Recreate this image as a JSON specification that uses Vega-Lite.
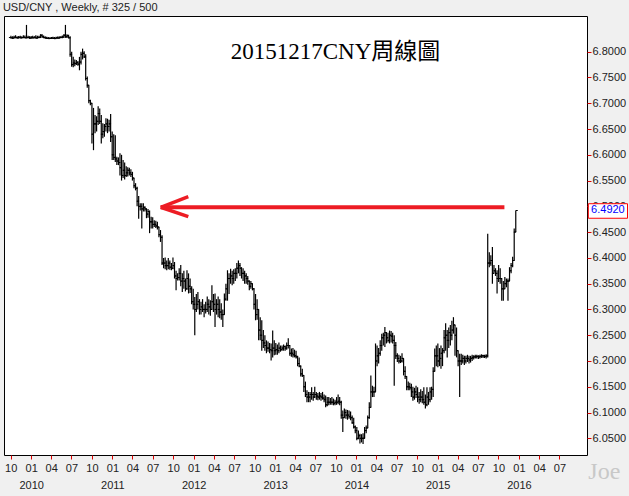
{
"$schema":"https://vega.github.io/schema/vega-lite/v6.json",
"width":583,"height":439,
"autosize":{"type":"none"},
"padding":{"left":4,"top":16,"right":42,"bottom":41},
"background":"#f0f0f0",
"config":{"view":{"fill":"white","stroke":"black","strokeWidth":1}},
"data":{"values":[
{"d":"2009-10-02","o":6.8275,"h":6.831,"l":6.8255,"c":6.827},
{"d":"2009-10-09","o":6.827,"h":6.83,"l":6.825,"c":6.8265},
{"d":"2009-10-16","o":6.8265,"h":6.831,"l":6.8255,"c":6.828},
{"d":"2009-10-23","o":6.828,"h":6.832,"l":6.826,"c":6.8275},
{"d":"2009-10-30","o":6.8275,"h":6.83,"l":6.825,"c":6.827},
{"d":"2009-11-06","o":6.827,"h":6.8305,"l":6.8255,"c":6.828},
{"d":"2009-11-13","o":6.828,"h":6.831,"l":6.826,"c":6.827},
{"d":"2009-11-20","o":6.827,"h":6.83,"l":6.8255,"c":6.8275},
{"d":"2009-11-27","o":6.8275,"h":6.832,"l":6.826,"c":6.828},
{"d":"2009-12-04","o":6.828,"h":6.8315,"l":6.826,"c":6.827},
{"d":"2009-12-11","o":6.827,"h":6.852,"l":6.826,"c":6.8275},
{"d":"2009-12-18","o":6.8275,"h":6.831,"l":6.8255,"c":6.828},
{"d":"2009-12-25","o":6.828,"h":6.83,"l":6.825,"c":6.8265},
{"d":"2010-01-01","o":6.8265,"h":6.8305,"l":6.825,"c":6.8275},
{"d":"2010-01-08","o":6.8275,"h":6.831,"l":6.8255,"c":6.827},
{"d":"2010-01-15","o":6.827,"h":6.83,"l":6.826,"c":6.828},
{"d":"2010-01-22","o":6.828,"h":6.832,"l":6.8255,"c":6.8265},
{"d":"2010-01-29","o":6.8265,"h":6.831,"l":6.8255,"c":6.8275},
{"d":"2010-02-05","o":6.8275,"h":6.831,"l":6.826,"c":6.828},
{"d":"2010-02-12","o":6.828,"h":6.834,"l":6.8265,"c":6.832},
{"d":"2010-02-19","o":6.832,"h":6.834,"l":6.827,"c":6.829},
{"d":"2010-02-26","o":6.829,"h":6.8315,"l":6.826,"c":6.8275},
{"d":"2010-03-05","o":6.8275,"h":6.83,"l":6.8255,"c":6.8265},
{"d":"2010-03-12","o":6.8265,"h":6.829,"l":6.825,"c":6.826},
{"d":"2010-03-19","o":6.826,"h":6.8285,"l":6.8245,"c":6.8255},
{"d":"2010-03-26","o":6.8255,"h":6.828,"l":6.8245,"c":6.826},
{"d":"2010-04-02","o":6.826,"h":6.8285,"l":6.825,"c":6.8265},
{"d":"2010-04-09","o":6.8265,"h":6.829,"l":6.825,"c":6.826},
{"d":"2010-04-16","o":6.826,"h":6.8285,"l":6.8245,"c":6.8255},
{"d":"2010-04-23","o":6.8255,"h":6.829,"l":6.825,"c":6.827},
{"d":"2010-04-30","o":6.827,"h":6.8295,"l":6.8255,"c":6.8265},
{"d":"2010-05-07","o":6.8265,"h":6.83,"l":6.825,"c":6.8275},
{"d":"2010-05-14","o":6.8275,"h":6.83,"l":6.826,"c":6.828},
{"d":"2010-05-21","o":6.828,"h":6.8315,"l":6.826,"c":6.8285},
{"d":"2010-05-28","o":6.8285,"h":6.834,"l":6.827,"c":6.832},
{"d":"2010-06-04","o":6.832,"h":6.852,"l":6.827,"c":6.829},
{"d":"2010-06-11","o":6.829,"h":6.834,"l":6.8265,"c":6.831},
{"d":"2010-06-18","o":6.831,"h":6.833,"l":6.826,"c":6.827},
{"d":"2010-06-25","o":6.827,"h":6.83,"l":6.79,"c":6.795},
{"d":"2010-07-02","o":6.795,"h":6.8,"l":6.771,"c":6.775},
{"d":"2010-07-09","o":6.775,"h":6.79,"l":6.77,"c":6.778},
{"d":"2010-07-16","o":6.778,"h":6.785,"l":6.772,"c":6.777},
{"d":"2010-07-23","o":6.777,"h":6.784,"l":6.774,"c":6.779},
{"d":"2010-07-30","o":6.779,"h":6.782,"l":6.773,"c":6.776},
{"d":"2010-08-06","o":6.776,"h":6.79,"l":6.764,"c":6.78},
{"d":"2010-08-13","o":6.78,"h":6.8,"l":6.775,"c":6.795},
{"d":"2010-08-20","o":6.795,"h":6.806,"l":6.785,"c":6.797},
{"d":"2010-08-27","o":6.797,"h":6.801,"l":6.788,"c":6.79},
{"d":"2010-09-03","o":6.79,"h":6.795,"l":6.744,"c":6.748},
{"d":"2010-09-10","o":6.748,"h":6.752,"l":6.73,"c":6.735},
{"d":"2010-09-17","o":6.735,"h":6.735,"l":6.7,"c":6.705},
{"d":"2010-09-24","o":6.705,"h":6.707,"l":6.696,"c":6.7},
{"d":"2010-10-01","o":6.7,"h":6.7,"l":6.622,"c":6.64},
{"d":"2010-10-08","o":6.64,"h":6.691,"l":6.609,"c":6.66},
{"d":"2010-10-15","o":6.66,"h":6.677,"l":6.642,"c":6.66},
{"d":"2010-10-22","o":6.66,"h":6.675,"l":6.645,"c":6.665},
{"d":"2010-10-29","o":6.665,"h":6.694,"l":6.658,"c":6.68},
{"d":"2010-11-05","o":6.68,"h":6.69,"l":6.66,"c":6.665},
{"d":"2010-11-12","o":6.665,"h":6.677,"l":6.622,"c":6.64},
{"d":"2010-11-19","o":6.64,"h":6.661,"l":6.632,"c":6.645},
{"d":"2010-11-26","o":6.645,"h":6.66,"l":6.635,"c":6.655},
{"d":"2010-12-03","o":6.655,"h":6.671,"l":6.645,"c":6.66},
{"d":"2010-12-10","o":6.66,"h":6.67,"l":6.642,"c":6.655},
{"d":"2010-12-17","o":6.655,"h":6.668,"l":6.645,"c":6.66},
{"d":"2010-12-24","o":6.66,"h":6.679,"l":6.625,"c":6.635},
{"d":"2010-12-31","o":6.635,"h":6.645,"l":6.59,"c":6.6},
{"d":"2011-01-07","o":6.6,"h":6.64,"l":6.59,"c":6.595},
{"d":"2011-01-14","o":6.595,"h":6.638,"l":6.586,"c":6.592},
{"d":"2011-01-21","o":6.592,"h":6.596,"l":6.58,"c":6.588},
{"d":"2011-01-28","o":6.588,"h":6.595,"l":6.58,"c":6.585},
{"d":"2011-02-04","o":6.585,"h":6.603,"l":6.56,"c":6.575},
{"d":"2011-02-11","o":6.575,"h":6.6,"l":6.55,"c":6.56},
{"d":"2011-02-18","o":6.56,"h":6.59,"l":6.555,"c":6.57},
{"d":"2011-02-25","o":6.57,"h":6.585,"l":6.552,"c":6.56},
{"d":"2011-03-04","o":6.56,"h":6.578,"l":6.557,"c":6.565},
{"d":"2011-03-11","o":6.565,"h":6.576,"l":6.558,"c":6.57},
{"d":"2011-03-18","o":6.57,"h":6.575,"l":6.56,"c":6.565},
{"d":"2011-03-25","o":6.565,"h":6.572,"l":6.557,"c":6.562},
{"d":"2011-04-01","o":6.562,"h":6.567,"l":6.55,"c":6.555},
{"d":"2011-04-08","o":6.555,"h":6.555,"l":6.535,"c":6.54},
{"d":"2011-04-15","o":6.54,"h":6.545,"l":6.531,"c":6.535},
{"d":"2011-04-22","o":6.535,"h":6.538,"l":6.5,"c":6.51},
{"d":"2011-04-29","o":6.51,"h":6.52,"l":6.476,"c":6.5},
{"d":"2011-05-06","o":6.5,"h":6.506,"l":6.492,"c":6.5},
{"d":"2011-05-13","o":6.5,"h":6.506,"l":6.457,"c":6.495},
{"d":"2011-05-20","o":6.495,"h":6.506,"l":6.49,"c":6.498},
{"d":"2011-05-27","o":6.498,"h":6.5,"l":6.49,"c":6.495},
{"d":"2011-06-03","o":6.495,"h":6.496,"l":6.477,"c":6.485},
{"d":"2011-06-10","o":6.485,"h":6.495,"l":6.478,"c":6.49},
{"d":"2011-06-17","o":6.49,"h":6.492,"l":6.448,"c":6.47},
{"d":"2011-06-24","o":6.47,"h":6.48,"l":6.457,"c":6.47},
{"d":"2011-07-01","o":6.47,"h":6.479,"l":6.457,"c":6.465},
{"d":"2011-07-08","o":6.465,"h":6.473,"l":6.46,"c":6.465},
{"d":"2011-07-15","o":6.465,"h":6.472,"l":6.458,"c":6.462},
{"d":"2011-07-22","o":6.462,"h":6.47,"l":6.455,"c":6.46},
{"d":"2011-07-29","o":6.46,"h":6.46,"l":6.44,"c":6.445},
{"d":"2011-08-05","o":6.445,"h":6.454,"l":6.431,"c":6.44},
{"d":"2011-08-12","o":6.44,"h":6.444,"l":6.386,"c":6.39},
{"d":"2011-08-19","o":6.39,"h":6.4,"l":6.38,"c":6.39},
{"d":"2011-08-26","o":6.39,"h":6.401,"l":6.378,"c":6.385},
{"d":"2011-09-02","o":6.385,"h":6.395,"l":6.376,"c":6.385},
{"d":"2011-09-09","o":6.385,"h":6.4,"l":6.378,"c":6.39},
{"d":"2011-09-16","o":6.39,"h":6.395,"l":6.377,"c":6.382},
{"d":"2011-09-23","o":6.382,"h":6.39,"l":6.376,"c":6.38},
{"d":"2011-09-30","o":6.38,"h":6.401,"l":6.378,"c":6.385},
{"d":"2011-10-07","o":6.385,"h":6.392,"l":6.36,"c":6.365},
{"d":"2011-10-14","o":6.365,"h":6.375,"l":6.337,"c":6.36},
{"d":"2011-10-21","o":6.36,"h":6.37,"l":6.356,"c":6.362},
{"d":"2011-10-28","o":6.362,"h":6.38,"l":6.356,"c":6.37},
{"d":"2011-11-04","o":6.37,"h":6.386,"l":6.345,"c":6.355},
{"d":"2011-11-11","o":6.355,"h":6.37,"l":6.334,"c":6.36},
{"d":"2011-11-18","o":6.36,"h":6.375,"l":6.34,"c":6.355},
{"d":"2011-11-25","o":6.355,"h":6.36,"l":6.335,"c":6.34},
{"d":"2011-12-02","o":6.34,"h":6.376,"l":6.338,"c":6.36},
{"d":"2011-12-09","o":6.36,"h":6.37,"l":6.331,"c":6.345},
{"d":"2011-12-16","o":6.345,"h":6.36,"l":6.332,"c":6.34},
{"d":"2011-12-23","o":6.34,"h":6.345,"l":6.31,"c":6.315},
{"d":"2011-12-30","o":6.315,"h":6.34,"l":6.3,"c":6.31},
{"d":"2012-01-06","o":6.31,"h":6.324,"l":6.25,"c":6.3},
{"d":"2012-01-13","o":6.3,"h":6.33,"l":6.295,"c":6.31},
{"d":"2012-01-20","o":6.31,"h":6.334,"l":6.3,"c":6.315},
{"d":"2012-01-27","o":6.315,"h":6.32,"l":6.29,"c":6.3},
{"d":"2012-02-03","o":6.3,"h":6.315,"l":6.29,"c":6.305},
{"d":"2012-02-10","o":6.305,"h":6.32,"l":6.295,"c":6.3},
{"d":"2012-02-17","o":6.3,"h":6.31,"l":6.285,"c":6.3},
{"d":"2012-02-24","o":6.3,"h":6.315,"l":6.292,"c":6.3},
{"d":"2012-03-02","o":6.3,"h":6.325,"l":6.295,"c":6.31},
{"d":"2012-03-09","o":6.31,"h":6.32,"l":6.29,"c":6.305},
{"d":"2012-03-16","o":6.305,"h":6.318,"l":6.288,"c":6.3},
{"d":"2012-03-23","o":6.3,"h":6.347,"l":6.3,"c":6.315},
{"d":"2012-03-30","o":6.315,"h":6.33,"l":6.295,"c":6.31},
{"d":"2012-04-06","o":6.31,"h":6.331,"l":6.266,"c":6.3},
{"d":"2012-04-13","o":6.3,"h":6.32,"l":6.29,"c":6.31},
{"d":"2012-04-20","o":6.31,"h":6.325,"l":6.285,"c":6.3},
{"d":"2012-04-27","o":6.3,"h":6.32,"l":6.283,"c":6.295},
{"d":"2012-05-04","o":6.295,"h":6.312,"l":6.28,"c":6.29},
{"d":"2012-05-11","o":6.29,"h":6.3,"l":6.266,"c":6.29},
{"d":"2012-05-18","o":6.29,"h":6.331,"l":6.29,"c":6.32},
{"d":"2012-05-25","o":6.32,"h":6.35,"l":6.317,"c":6.34},
{"d":"2012-06-01","o":6.34,"h":6.376,"l":6.317,"c":6.36},
{"d":"2012-06-08","o":6.36,"h":6.37,"l":6.33,"c":6.36},
{"d":"2012-06-15","o":6.36,"h":6.379,"l":6.35,"c":6.365},
{"d":"2012-06-22","o":6.365,"h":6.375,"l":6.347,"c":6.36},
{"d":"2012-06-29","o":6.36,"h":6.378,"l":6.35,"c":6.37},
{"d":"2012-07-06","o":6.37,"h":6.38,"l":6.355,"c":6.37},
{"d":"2012-07-13","o":6.37,"h":6.39,"l":6.36,"c":6.38},
{"d":"2012-07-20","o":6.38,"h":6.395,"l":6.37,"c":6.385},
{"d":"2012-07-27","o":6.385,"h":6.39,"l":6.365,"c":6.38},
{"d":"2012-08-03","o":6.38,"h":6.382,"l":6.36,"c":6.37},
{"d":"2012-08-10","o":6.37,"h":6.38,"l":6.355,"c":6.37},
{"d":"2012-08-17","o":6.37,"h":6.375,"l":6.35,"c":6.365},
{"d":"2012-08-24","o":6.365,"h":6.37,"l":6.35,"c":6.36},
{"d":"2012-08-31","o":6.36,"h":6.365,"l":6.348,"c":6.355},
{"d":"2012-09-07","o":6.355,"h":6.356,"l":6.337,"c":6.345},
{"d":"2012-09-14","o":6.345,"h":6.355,"l":6.34,"c":6.35},
{"d":"2012-09-21","o":6.35,"h":6.35,"l":6.337,"c":6.34},
{"d":"2012-09-28","o":6.34,"h":6.341,"l":6.3,"c":6.31},
{"d":"2012-10-05","o":6.31,"h":6.33,"l":6.279,"c":6.29},
{"d":"2012-10-12","o":6.29,"h":6.32,"l":6.28,"c":6.3},
{"d":"2012-10-19","o":6.3,"h":6.3,"l":6.24,"c":6.26},
{"d":"2012-10-26","o":6.26,"h":6.285,"l":6.24,"c":6.25},
{"d":"2012-11-02","o":6.25,"h":6.279,"l":6.22,"c":6.24},
{"d":"2012-11-09","o":6.24,"h":6.26,"l":6.225,"c":6.235},
{"d":"2012-11-16","o":6.235,"h":6.25,"l":6.22,"c":6.23},
{"d":"2012-11-23","o":6.23,"h":6.24,"l":6.215,"c":6.225},
{"d":"2012-11-30","o":6.225,"h":6.238,"l":6.218,"c":6.225},
{"d":"2012-12-07","o":6.225,"h":6.235,"l":6.215,"c":6.222},
{"d":"2012-12-14","o":6.222,"h":6.234,"l":6.201,"c":6.22},
{"d":"2012-12-21","o":6.22,"h":6.259,"l":6.207,"c":6.225},
{"d":"2012-12-28","o":6.225,"h":6.24,"l":6.211,"c":6.22},
{"d":"2013-01-04","o":6.22,"h":6.235,"l":6.212,"c":6.222},
{"d":"2013-01-11","o":6.222,"h":6.232,"l":6.212,"c":6.22},
{"d":"2013-01-18","o":6.22,"h":6.236,"l":6.215,"c":6.225},
{"d":"2013-01-25","o":6.225,"h":6.23,"l":6.218,"c":6.222},
{"d":"2013-02-01","o":6.222,"h":6.23,"l":6.22,"c":6.225},
{"d":"2013-02-08","o":6.225,"h":6.232,"l":6.22,"c":6.228},
{"d":"2013-02-15","o":6.228,"h":6.23,"l":6.22,"c":6.225},
{"d":"2013-02-22","o":6.225,"h":6.236,"l":6.222,"c":6.23},
{"d":"2013-03-01","o":6.23,"h":6.244,"l":6.224,"c":6.23},
{"d":"2013-03-08","o":6.23,"h":6.23,"l":6.21,"c":6.215},
{"d":"2013-03-15","o":6.215,"h":6.224,"l":6.208,"c":6.215},
{"d":"2013-03-22","o":6.215,"h":6.225,"l":6.207,"c":6.212},
{"d":"2013-03-29","o":6.212,"h":6.222,"l":6.207,"c":6.21},
{"d":"2013-04-05","o":6.21,"h":6.22,"l":6.205,"c":6.208},
{"d":"2013-04-12","o":6.208,"h":6.21,"l":6.19,"c":6.195},
{"d":"2013-04-19","o":6.195,"h":6.207,"l":6.188,"c":6.19},
{"d":"2013-04-26","o":6.19,"h":6.191,"l":6.17,"c":6.175},
{"d":"2013-05-03","o":6.175,"h":6.185,"l":6.169,"c":6.172},
{"d":"2013-05-10","o":6.172,"h":6.172,"l":6.14,"c":6.15},
{"d":"2013-05-17","o":6.15,"h":6.16,"l":6.13,"c":6.135},
{"d":"2013-05-24","o":6.135,"h":6.143,"l":6.12,"c":6.13},
{"d":"2013-05-31","o":6.13,"h":6.14,"l":6.12,"c":6.13},
{"d":"2013-06-07","o":6.13,"h":6.14,"l":6.12,"c":6.135},
{"d":"2013-06-14","o":6.135,"h":6.149,"l":6.125,"c":6.135},
{"d":"2013-06-21","o":6.135,"h":6.14,"l":6.123,"c":6.13},
{"d":"2013-06-28","o":6.13,"h":6.15,"l":6.128,"c":6.135},
{"d":"2013-07-05","o":6.135,"h":6.14,"l":6.125,"c":6.132},
{"d":"2013-07-12","o":6.132,"h":6.138,"l":6.124,"c":6.13},
{"d":"2013-07-19","o":6.13,"h":6.14,"l":6.125,"c":6.132},
{"d":"2013-07-26","o":6.132,"h":6.138,"l":6.123,"c":6.13},
{"d":"2013-08-02","o":6.13,"h":6.14,"l":6.125,"c":6.128},
{"d":"2013-08-09","o":6.128,"h":6.135,"l":6.12,"c":6.125},
{"d":"2013-08-16","o":6.125,"h":6.133,"l":6.11,"c":6.115},
{"d":"2013-08-23","o":6.115,"h":6.13,"l":6.112,"c":6.12},
{"d":"2013-08-30","o":6.12,"h":6.13,"l":6.114,"c":6.12},
{"d":"2013-09-06","o":6.12,"h":6.128,"l":6.115,"c":6.12},
{"d":"2013-09-13","o":6.12,"h":6.13,"l":6.115,"c":6.12},
{"d":"2013-09-20","o":6.12,"h":6.127,"l":6.114,"c":6.118},
{"d":"2013-09-27","o":6.118,"h":6.125,"l":6.114,"c":6.12},
{"d":"2013-10-04","o":6.12,"h":6.13,"l":6.115,"c":6.12},
{"d":"2013-10-11","o":6.12,"h":6.135,"l":6.116,"c":6.122},
{"d":"2013-10-18","o":6.122,"h":6.13,"l":6.114,"c":6.12},
{"d":"2013-10-25","o":6.12,"h":6.123,"l":6.088,"c":6.095},
{"d":"2013-11-01","o":6.095,"h":6.104,"l":6.062,"c":6.09},
{"d":"2013-11-08","o":6.09,"h":6.108,"l":6.09,"c":6.1},
{"d":"2013-11-15","o":6.1,"h":6.106,"l":6.088,"c":6.095},
{"d":"2013-11-22","o":6.095,"h":6.105,"l":6.086,"c":6.095},
{"d":"2013-11-29","o":6.095,"h":6.104,"l":6.088,"c":6.092},
{"d":"2013-12-06","o":6.092,"h":6.102,"l":6.085,"c":6.09},
{"d":"2013-12-13","o":6.09,"h":6.094,"l":6.078,"c":6.08},
{"d":"2013-12-20","o":6.08,"h":6.09,"l":6.069,"c":6.072},
{"d":"2013-12-27","o":6.072,"h":6.075,"l":6.06,"c":6.065},
{"d":"2014-01-03","o":6.065,"h":6.072,"l":6.046,"c":6.05},
{"d":"2014-01-10","o":6.05,"h":6.065,"l":6.048,"c":6.055},
{"d":"2014-01-17","o":6.055,"h":6.059,"l":6.04,"c":6.05},
{"d":"2014-01-24","o":6.05,"h":6.058,"l":6.042,"c":6.05},
{"d":"2014-01-31","o":6.05,"h":6.06,"l":6.039,"c":6.05},
{"d":"2014-02-07","o":6.05,"h":6.072,"l":6.05,"c":6.065},
{"d":"2014-02-14","o":6.065,"h":6.075,"l":6.06,"c":6.07},
{"d":"2014-02-21","o":6.07,"h":6.094,"l":6.07,"c":6.09},
{"d":"2014-02-28","o":6.09,"h":6.12,"l":6.088,"c":6.11},
{"d":"2014-03-07","o":6.11,"h":6.172,"l":6.11,"c":6.14},
{"d":"2014-03-14","o":6.14,"h":6.152,"l":6.13,"c":6.14},
{"d":"2014-03-21","o":6.14,"h":6.15,"l":6.13,"c":6.14},
{"d":"2014-03-28","o":6.14,"h":6.234,"l":6.14,"c":6.2},
{"d":"2014-04-04","o":6.2,"h":6.23,"l":6.19,"c":6.21},
{"d":"2014-04-11","o":6.21,"h":6.225,"l":6.195,"c":6.215},
{"d":"2014-04-18","o":6.215,"h":6.24,"l":6.21,"c":6.23},
{"d":"2014-04-25","o":6.23,"h":6.253,"l":6.22,"c":6.245},
{"d":"2014-05-02","o":6.245,"h":6.255,"l":6.23,"c":6.25},
{"d":"2014-05-09","o":6.25,"h":6.266,"l":6.227,"c":6.255},
{"d":"2014-05-16","o":6.255,"h":6.256,"l":6.234,"c":6.245},
{"d":"2014-05-23","o":6.245,"h":6.255,"l":6.236,"c":6.24},
{"d":"2014-05-30","o":6.24,"h":6.259,"l":6.234,"c":6.25},
{"d":"2014-06-06","o":6.25,"h":6.258,"l":6.236,"c":6.248},
{"d":"2014-06-13","o":6.248,"h":6.255,"l":6.234,"c":6.24},
{"d":"2014-06-20","o":6.24,"h":6.25,"l":6.152,"c":6.23},
{"d":"2014-06-27","o":6.23,"h":6.237,"l":6.204,"c":6.21},
{"d":"2014-07-04","o":6.21,"h":6.215,"l":6.198,"c":6.205},
{"d":"2014-07-11","o":6.205,"h":6.212,"l":6.195,"c":6.2},
{"d":"2014-07-18","o":6.2,"h":6.21,"l":6.196,"c":6.2},
{"d":"2014-07-25","o":6.2,"h":6.215,"l":6.197,"c":6.205},
{"d":"2014-08-01","o":6.205,"h":6.205,"l":6.172,"c":6.18},
{"d":"2014-08-08","o":6.18,"h":6.19,"l":6.165,"c":6.17},
{"d":"2014-08-15","o":6.17,"h":6.17,"l":6.143,"c":6.15},
{"d":"2014-08-22","o":6.15,"h":6.16,"l":6.143,"c":6.15},
{"d":"2014-08-29","o":6.15,"h":6.158,"l":6.143,"c":6.148},
{"d":"2014-09-05","o":6.148,"h":6.156,"l":6.13,"c":6.14},
{"d":"2014-09-12","o":6.14,"h":6.15,"l":6.123,"c":6.13},
{"d":"2014-09-19","o":6.13,"h":6.148,"l":6.125,"c":6.14},
{"d":"2014-09-26","o":6.14,"h":6.152,"l":6.128,"c":6.135},
{"d":"2014-10-03","o":6.135,"h":6.149,"l":6.12,"c":6.13},
{"d":"2014-10-10","o":6.13,"h":6.14,"l":6.117,"c":6.125},
{"d":"2014-10-17","o":6.125,"h":6.145,"l":6.12,"c":6.13},
{"d":"2014-10-24","o":6.13,"h":6.142,"l":6.118,"c":6.125},
{"d":"2014-10-31","o":6.125,"h":6.149,"l":6.115,"c":6.12},
{"d":"2014-11-07","o":6.12,"h":6.135,"l":6.108,"c":6.115},
{"d":"2014-11-14","o":6.115,"h":6.149,"l":6.112,"c":6.13},
{"d":"2014-11-21","o":6.13,"h":6.14,"l":6.115,"c":6.125},
{"d":"2014-11-28","o":6.125,"h":6.149,"l":6.12,"c":6.14},
{"d":"2014-12-05","o":6.14,"h":6.15,"l":6.125,"c":6.145},
{"d":"2014-12-12","o":6.145,"h":6.188,"l":6.13,"c":6.18},
{"d":"2014-12-19","o":6.18,"h":6.224,"l":6.18,"c":6.21},
{"d":"2014-12-26","o":6.21,"h":6.23,"l":6.19,"c":6.21},
{"d":"2015-01-02","o":6.21,"h":6.234,"l":6.188,"c":6.2},
{"d":"2015-01-09","o":6.2,"h":6.225,"l":6.19,"c":6.205},
{"d":"2015-01-16","o":6.205,"h":6.23,"l":6.185,"c":6.215},
{"d":"2015-01-23","o":6.215,"h":6.225,"l":6.19,"c":6.22},
{"d":"2015-01-30","o":6.22,"h":6.26,"l":6.215,"c":6.245},
{"d":"2015-02-06","o":6.245,"h":6.273,"l":6.22,"c":6.25},
{"d":"2015-02-13","o":6.25,"h":6.26,"l":6.207,"c":6.24},
{"d":"2015-02-20","o":6.24,"h":6.265,"l":6.225,"c":6.255},
{"d":"2015-02-27","o":6.255,"h":6.27,"l":6.23,"c":6.25},
{"d":"2015-03-06","o":6.25,"h":6.278,"l":6.24,"c":6.26},
{"d":"2015-03-13","o":6.26,"h":6.285,"l":6.253,"c":6.27},
{"d":"2015-03-20","o":6.27,"h":6.27,"l":6.21,"c":6.25},
{"d":"2015-03-27","o":6.25,"h":6.265,"l":6.207,"c":6.22},
{"d":"2015-04-03","o":6.22,"h":6.22,"l":6.19,"c":6.2},
{"d":"2015-04-10","o":6.2,"h":6.214,"l":6.13,"c":6.2},
{"d":"2015-04-17","o":6.2,"h":6.214,"l":6.192,"c":6.2},
{"d":"2015-04-24","o":6.2,"h":6.212,"l":6.195,"c":6.205},
{"d":"2015-05-01","o":6.205,"h":6.21,"l":6.192,"c":6.2},
{"d":"2015-05-08","o":6.2,"h":6.21,"l":6.195,"c":6.205},
{"d":"2015-05-15","o":6.205,"h":6.212,"l":6.198,"c":6.205},
{"d":"2015-05-22","o":6.205,"h":6.21,"l":6.195,"c":6.202},
{"d":"2015-05-29","o":6.202,"h":6.21,"l":6.197,"c":6.205},
{"d":"2015-06-05","o":6.205,"h":6.212,"l":6.2,"c":6.207},
{"d":"2015-06-12","o":6.207,"h":6.211,"l":6.203,"c":6.208},
{"d":"2015-06-19","o":6.208,"h":6.212,"l":6.205,"c":6.208},
{"d":"2015-06-26","o":6.208,"h":6.212,"l":6.205,"c":6.209},
{"d":"2015-07-03","o":6.209,"h":6.211,"l":6.204,"c":6.208},
{"d":"2015-07-10","o":6.208,"h":6.212,"l":6.205,"c":6.209},
{"d":"2015-07-17","o":6.209,"h":6.213,"l":6.206,"c":6.21},
{"d":"2015-07-24","o":6.21,"h":6.212,"l":6.206,"c":6.21},
{"d":"2015-07-31","o":6.21,"h":6.212,"l":6.206,"c":6.209},
{"d":"2015-08-07","o":6.209,"h":6.213,"l":6.205,"c":6.21},
{"d":"2015-08-14","o":6.21,"h":6.447,"l":6.207,"c":6.39},
{"d":"2015-08-21","o":6.39,"h":6.411,"l":6.382,"c":6.39},
{"d":"2015-08-28","o":6.39,"h":6.405,"l":6.385,"c":6.395},
{"d":"2015-09-04","o":6.395,"h":6.421,"l":6.35,"c":6.37},
{"d":"2015-09-11","o":6.37,"h":6.386,"l":6.37,"c":6.375},
{"d":"2015-09-18","o":6.375,"h":6.38,"l":6.365,"c":6.37},
{"d":"2015-09-25","o":6.37,"h":6.376,"l":6.331,"c":6.36},
{"d":"2015-10-02","o":6.36,"h":6.386,"l":6.353,"c":6.36},
{"d":"2015-10-09","o":6.36,"h":6.38,"l":6.35,"c":6.36},
{"d":"2015-10-16","o":6.36,"h":6.36,"l":6.317,"c":6.34},
{"d":"2015-10-23","o":6.34,"h":6.355,"l":6.317,"c":6.34},
{"d":"2015-10-30","o":6.34,"h":6.363,"l":6.34,"c":6.35},
{"d":"2015-11-06","o":6.35,"h":6.36,"l":6.343,"c":6.355},
{"d":"2015-11-13","o":6.355,"h":6.36,"l":6.317,"c":6.355},
{"d":"2015-11-20","o":6.355,"h":6.382,"l":6.355,"c":6.375},
{"d":"2015-11-27","o":6.375,"h":6.39,"l":6.37,"c":6.385},
{"d":"2015-12-04","o":6.385,"h":6.402,"l":6.382,"c":6.395},
{"d":"2015-12-11","o":6.395,"h":6.457,"l":6.395,"c":6.45},
{"d":"2015-12-18","o":6.45,"h":6.492,"l":6.45,"c":6.492}
]},
"layer":[
{"mark":{"type":"rule","color":"black","strokeWidth":1.2},
 "encoding":{
  "x":{"field":"d","type":"temporal","scale":{"type":"utc","domain":[{"year":2009,"month":9,"date":1,"utc":true},{"year":2016,"month":11,"date":2,"utc":true}]},
   "axis":{"orient":"bottom","title":null,"grid":false,"domain":false,"tickColor":"#e00000","tickSize":4,"labelFont":"Liberation Sans","labelFontSize":11,"labelColor":"#222","labelPadding":3,"labelOverlap":false,"labelFlush":false,"labelBound":false,
    "labelExpr":"utcFormat(datum.value, '%m')",
    "values":[{"year":2009,"month":10,"date":1,"utc":true},{"year":2010,"month":1,"date":1,"utc":true},{"year":2010,"month":4,"date":1,"utc":true},{"year":2010,"month":7,"date":1,"utc":true},{"year":2010,"month":10,"date":1,"utc":true},{"year":2011,"month":1,"date":1,"utc":true},{"year":2011,"month":4,"date":1,"utc":true},{"year":2011,"month":7,"date":1,"utc":true},{"year":2011,"month":10,"date":1,"utc":true},{"year":2012,"month":1,"date":1,"utc":true},{"year":2012,"month":4,"date":1,"utc":true},{"year":2012,"month":7,"date":1,"utc":true},{"year":2012,"month":10,"date":1,"utc":true},{"year":2013,"month":1,"date":1,"utc":true},{"year":2013,"month":4,"date":1,"utc":true},{"year":2013,"month":7,"date":1,"utc":true},{"year":2013,"month":10,"date":1,"utc":true},{"year":2014,"month":1,"date":1,"utc":true},{"year":2014,"month":4,"date":1,"utc":true},{"year":2014,"month":7,"date":1,"utc":true},{"year":2014,"month":10,"date":1,"utc":true},{"year":2015,"month":1,"date":1,"utc":true},{"year":2015,"month":4,"date":1,"utc":true},{"year":2015,"month":7,"date":1,"utc":true},{"year":2015,"month":10,"date":1,"utc":true},{"year":2016,"month":1,"date":1,"utc":true},{"year":2016,"month":4,"date":1,"utc":true},{"year":2016,"month":7,"date":1,"utc":true}]}},
  "y":{"field":"l","type":"quantitative","scale":{"domain":[6.0176,6.8693],"zero":false,"nice":false},
   "axis":{"orient":"right","title":null,"grid":false,"domain":false,"tickColor":"#e00000","tickSize":4,"labelFont":"Liberation Sans","labelFontSize":11,"labelColor":"#222","labelPadding":1,"format":".4f","labelOverlap":false,"labelBound":false,"labelFlush":false,
    "values":[6.05,6.1,6.15,6.2,6.25,6.3,6.35,6.4,6.45,6.5,6.55,6.6,6.65,6.7,6.75,6.8]}},
  "y2":{"field":"h"}}},
{"mark":{"type":"tick","orient":"horizontal","size":2,"thickness":1,"xOffset":-1,"color":"black","opacity":1},
 "encoding":{"x":{"field":"d","type":"temporal","axis":null},"y":{"field":"o","type":"quantitative","axis":null}}},
{"mark":{"type":"tick","orient":"horizontal","size":2,"thickness":1,"xOffset":1,"color":"black","opacity":1},
 "encoding":{"x":{"field":"d","type":"temporal","axis":null},"y":{"field":"c","type":"quantitative","axis":null}}},
{"data":{"values":[{"x":"2011-08-06","y":6.4982,"x2":"2015-10-28","y2":6.4982}]},
 "mark":{"type":"rule","color":"#ed1c24","strokeWidth":4},
 "encoding":{"x":{"field":"x","type":"temporal",
   "axis":{"orient":"bottom","title":null,"grid":false,"domain":false,"ticks":false,"labelFont":"Liberation Sans","labelFontSize":11,"labelColor":"#222","labelPadding":24,"labelOverlap":false,"labelFlush":false,"labelBound":false,
    "labelExpr":"utcFormat(datum.value, '%Y')",
    "values":[{"year":2010,"month":1,"date":1,"utc":true},{"year":2011,"month":1,"date":1,"utc":true},{"year":2012,"month":1,"date":1,"utc":true},{"year":2013,"month":1,"date":1,"utc":true},{"year":2014,"month":1,"date":1,"utc":true},{"year":2015,"month":1,"date":1,"utc":true},{"year":2016,"month":1,"date":1,"utc":true}]}},
  "x2":{"field":"x2"},
  "y":{"field":"y","type":"quantitative","axis":null},"y2":{"field":"y2"}}},
{"data":{"values":[{"x":"2011-08-06","y":6.4982,"x2":"2011-12-08","y2":6.5188},{"x":"2011-08-06","y":6.4982,"x2":"2011-12-08","y2":6.48}]},
 "mark":{"type":"rule","color":"#ed1c24","strokeWidth":3.5},
 "encoding":{"x":{"field":"x","type":"temporal","axis":null},"x2":{"field":"x2"},
  "y":{"field":"y","type":"quantitative","axis":null},"y2":{"field":"y2"}}},
{"data":{"values":[{"x":"2013-09-29","y":6.799,"t":"20151217CNY周線圖"}]},
 "mark":{"type":"text","font":"Liberation Serif, Noto Sans CJK TC","fontSize":23,"color":"black","align":"center","baseline":"middle"},
 "encoding":{"x":{"field":"x","type":"temporal","axis":null},"y":{"field":"y","type":"quantitative","axis":null},"text":{"field":"t"}}},
{"data":{"values":[{"x":"2009-08-27","y":6.879,"t":"USD/CNY , Weekly, # 325 / 500"}]},
 "mark":{"type":"text","font":"Liberation Sans","fontSize":11,"color":"#222","align":"left","baseline":"alphabetic"},
 "encoding":{"x":{"field":"x","type":"temporal","axis":null},"y":{"field":"y","type":"quantitative","axis":null},"text":{"field":"t"}}},
{"data":{"values":[{"x":"2016-11-08","x2":"2017-05-03","y":6.5051,"y2":6.4769}]},
 "mark":{"type":"rect","fill":"white","stroke":"#ff0000","strokeWidth":1},
 "encoding":{"x":{"field":"x","type":"temporal","axis":null},"x2":{"field":"x2"},"y":{"field":"y","type":"quantitative","axis":null},"y2":{"field":"y2"}}},
{"data":{"values":[{"x":"2017-02-04","y":6.492,"t":"6.4920"}]},
 "mark":{"type":"text","font":"Liberation Sans","fontSize":11,"color":"#0000ff","align":"center","baseline":"middle"},
 "encoding":{"x":{"field":"x","type":"temporal","axis":null},"y":{"field":"y","type":"quantitative","axis":null},"text":{"field":"t"}}},
{"data":{"values":[{"x":"2017-01-19","y":5.971,"t":"Joe"}]},
 "mark":{"type":"text","font":"Liberation Serif","fontSize":24,"color":"#c8c8c8","align":"center","baseline":"alphabetic"},
 "encoding":{"x":{"field":"x","type":"temporal","axis":null},"y":{"field":"y","type":"quantitative","axis":null},"text":{"field":"t"}}}
],
"resolve":{"axis":{"x":"independent","y":"independent"}}
}
